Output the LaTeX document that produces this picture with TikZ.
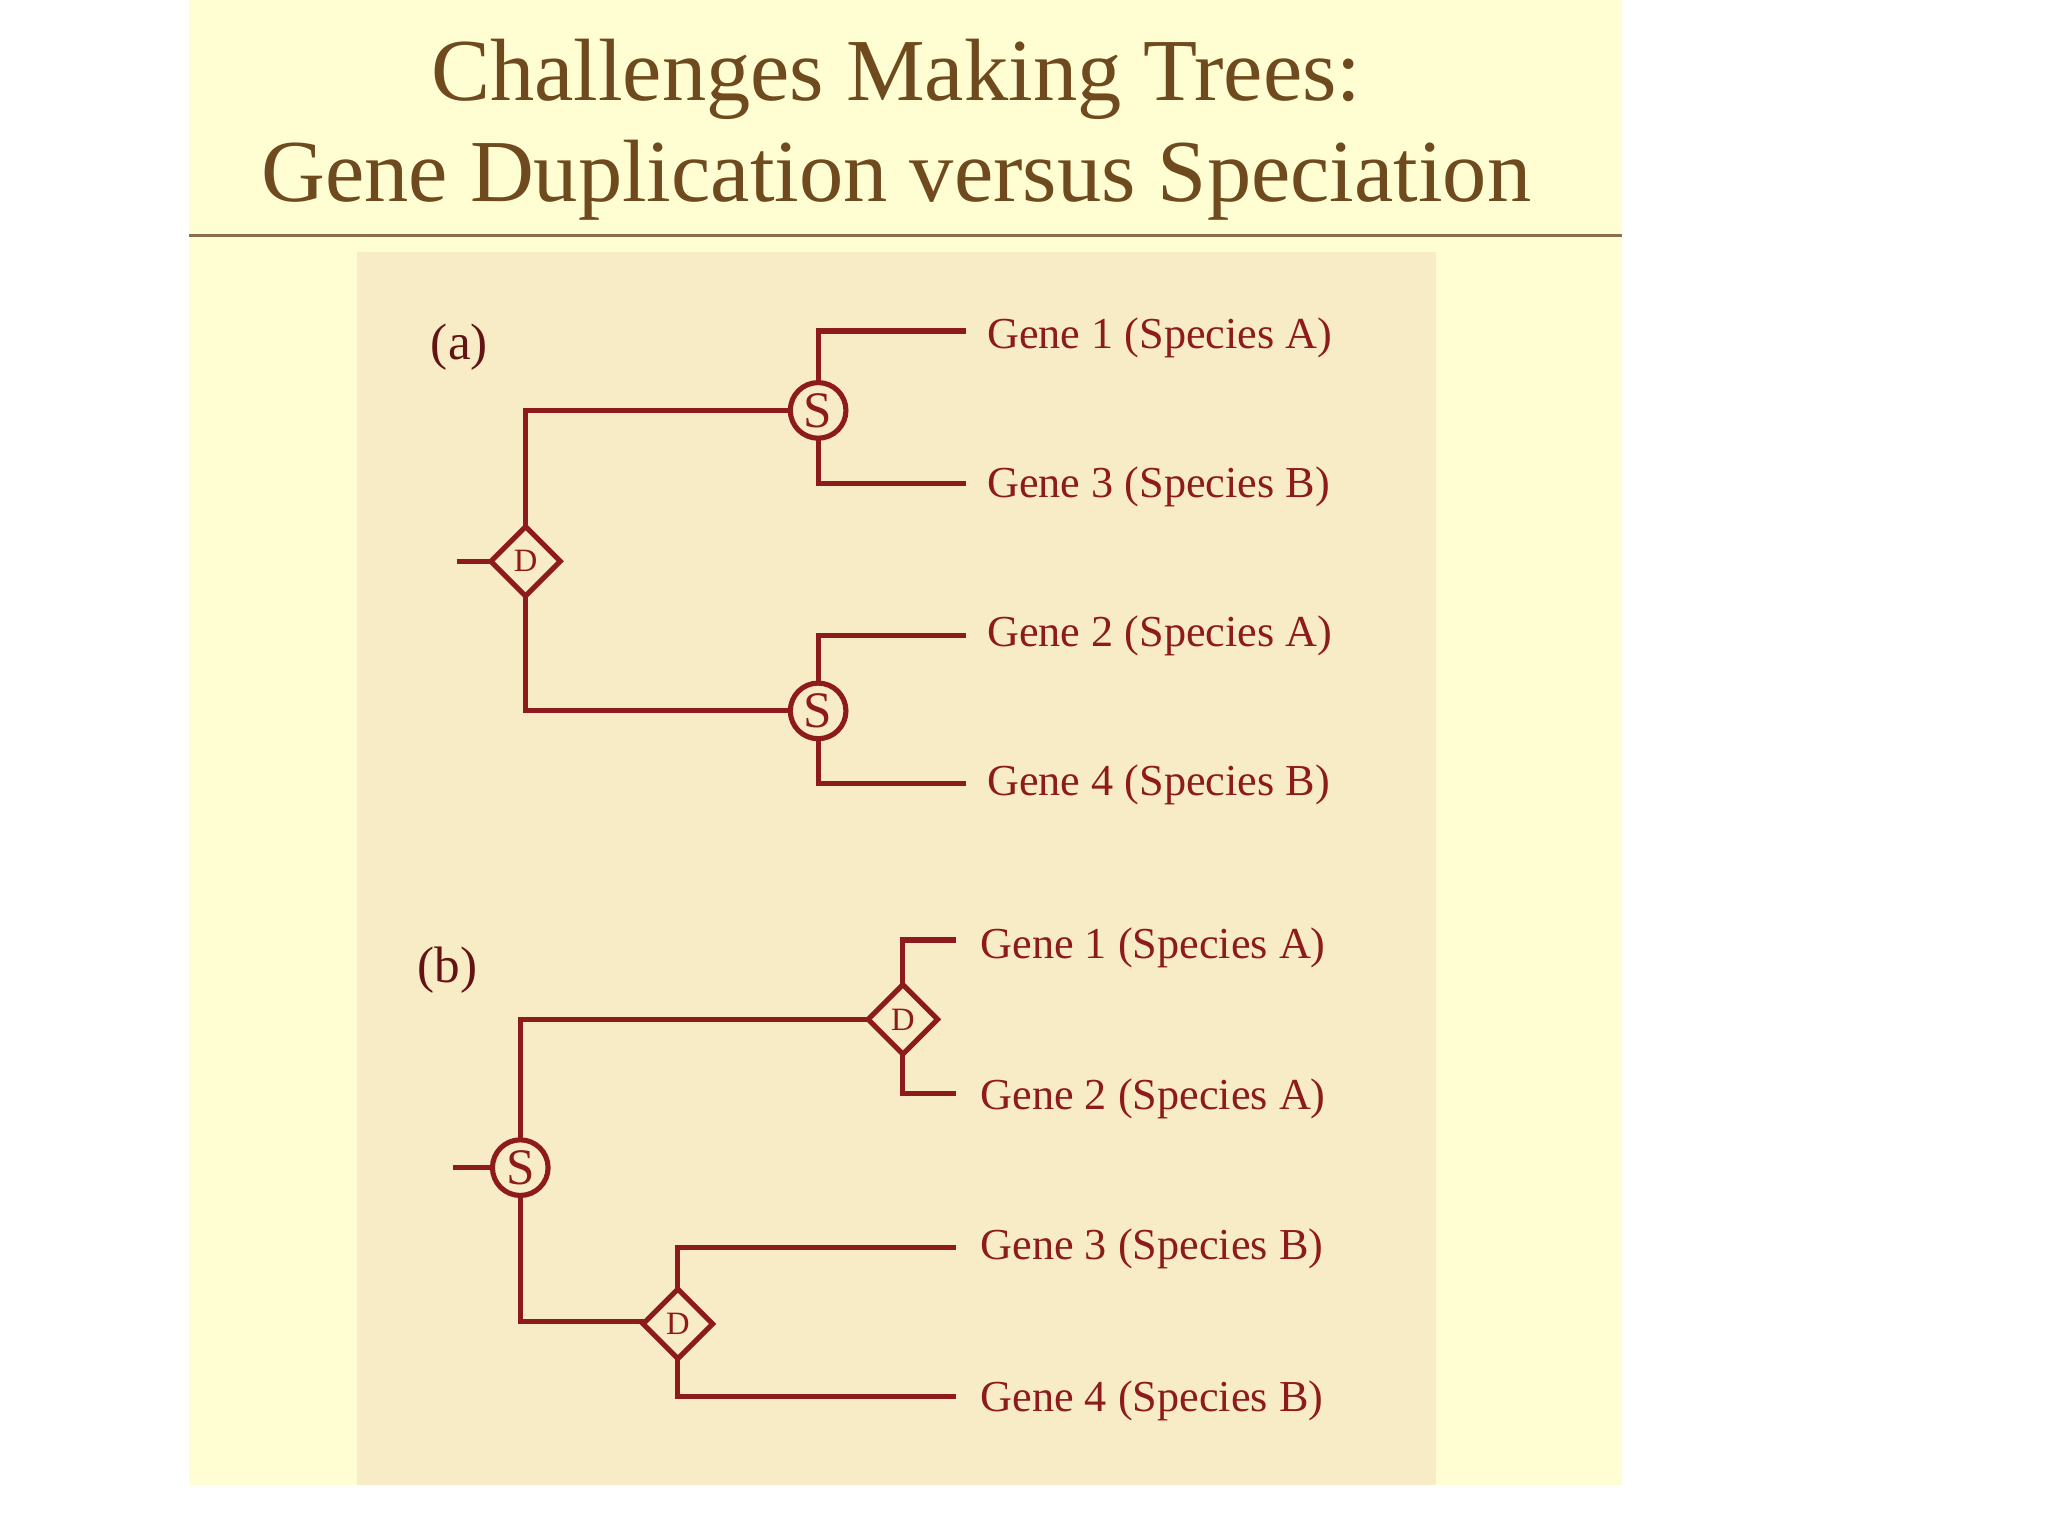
\documentclass[tikz,border=0pt]{standalone}
\usepackage{fontspec}
\setmainfont{Liberation Serif}
\usetikzlibrary{shapes.geometric}
\definecolor{slide}{HTML}{FFFDD2}
\definecolor{panel}{HTML}{F8ECC6}
\definecolor{ttl}{HTML}{6E4A1E}
\definecolor{tree}{HTML}{8E1B1B}
\begin{document}
\begin{tikzpicture}[x=0.01cm,y=-0.01cm,
  br/.style={draw=tree,line width=1.1pt},
  snode/.style={circle,draw=tree,line width=1.1pt,fill=panel,minimum size=0.42cm,inner sep=0pt,text=tree,font=\fontsize{11}{11}\selectfont},
  dnode/.style={diamond,draw=tree,line width=1.1pt,fill=panel,minimum size=0.54cm,inner sep=0pt,text=tree,font=\fontsize{7}{7}\selectfont},
  lab/.style={anchor=west,text=tree,font=\fontsize{9.5}{11}\selectfont,inner sep=0pt},
  tag/.style={text=tree!70!black,font=\fontsize{11}{13}\selectfont}]
\useasboundingbox (0,0) rectangle (1547,1160);
\fill[white] (0,0) rectangle (1547,1160);
\fill[slide] (143,0) rectangle (1225,1122);
\node[text=ttl,font=\fontsize{19}{21.5}\selectfont,align=center] (title) at (677,98) {Challenges Making Trees:\\Gene Duplication versus Speciation};
\draw[ttl!80,line width=0.6pt] (143,178) -- (1225,178);
\fill[panel] (270,190) rectangle (1085,1122);
% (a)
\node[tag] (ta) at (347,262) {(a)};
\coordinate (ra) at (345,424);
\coordinate (a1) at (397,310); \coordinate (a2) at (397,537);
\coordinate (s1t) at (618,250); \coordinate (s1b) at (618,365);
\coordinate (s2t) at (618,480); \coordinate (s2b) at (618,592);
\coordinate (e1) at (730,250); \coordinate (e3) at (730,365);
\coordinate (e2) at (730,480); \coordinate (e4) at (730,592);
\draw[br] (ra) -- (397,424);
\draw[br] (e1) -- (s1t) -- (s1b) -- (e3);
\draw[br] (e2) -- (s2t) -- (s2b) -- (e4);
\draw[br] (618,310) -- (a1) -- (a2) -- (618,537);
\node[dnode] (da) at (397,424) {D};
\node[snode] (sa1) at (618,310) {S};
\node[snode] (sa2) at (618,537) {S};
\node[lab] (g1a) at (745,255) {Gene 1 (Species A)};
\node[lab] (g3a) at (745,368) {Gene 3 (Species B)};
\node[lab] (g2a) at (745,480) {Gene 2 (Species A)};
\node[lab] (g4a) at (745,593) {Gene 4 (Species B)};
% (b)
\node[tag] (tb) at (338,733) {(b)};
\coordinate (rb) at (342,882);
\coordinate (b1) at (393,770); \coordinate (b2) at (393,998);
\coordinate (d1t) at (682,710); \coordinate (d1b) at (682,826);
\coordinate (d2t) at (512,942); \coordinate (d2b) at (512,1055);
\coordinate (f1) at (722,710); \coordinate (f2) at (722,826);
\coordinate (f3) at (722,942); \coordinate (f4) at (722,1055);
\draw[br] (rb) -- (393,882);
\draw[br] (682,770) -- (b1) -- (b2) -- (512,998);
\draw[br] (f1) -- (d1t) -- (d1b) -- (f2);
\draw[br] (f3) -- (d2t) -- (d2b) -- (f4);
\node[snode] (sb) at (393,882) {S};
\node[dnode] (db1) at (682,770) {D};
\node[dnode] (db2) at (512,1000) {D};
\node[lab] (g1b) at (740,716) {Gene 1 (Species A)};
\node[lab] (g2b) at (740,830) {Gene 2 (Species A)};
\node[lab] (g3b) at (740,943) {Gene 3 (Species B)};
\node[lab] (g4b) at (740,1058) {Gene 4 (Species B)};
\end{tikzpicture}
\end{document}
